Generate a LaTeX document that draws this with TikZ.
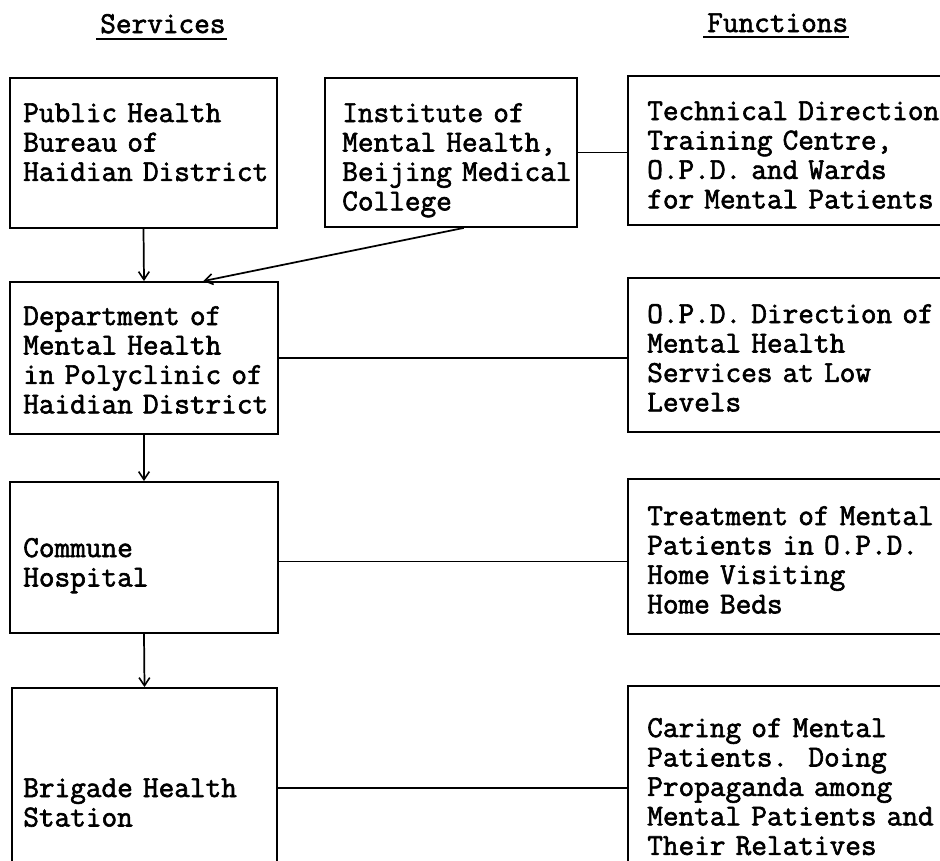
\documentclass[tikz,border=0pt]{standalone}
\usepackage{fontspec}
\usetikzlibrary{arrows.meta,fit,calc}

% heavy typewriter face: every space is exactly one character cell
\newfontfamily\twfont{Latin Modern Mono}[FakeBold=2]
\newcommand{\typeface}{\twfont\fontsize{22.8pt}{22.1pt}\selectfont
  \spaceskip=\fontcharwd\font`M\relax\xspaceskip=\spaceskip\frenchspacing}

\begin{document}
\begin{tikzpicture}[x=0.75pt,y=-0.75pt,
  box/.style={draw,rectangle,line width=1.4pt,inner sep=0pt},
  txt/.style={anchor=base west,inner sep=0pt,text width=320pt,align=left,font=\typeface},
  head/.style={anchor=base west,inner sep=0pt,font=\typeface},
  conn/.style={line width=1.3pt},
  arr/.style={conn,-{Straight Barb[length=6pt,width=8pt,line width=1.2pt]}},
  uline/.style={line width=1.6pt}]

\useasboundingbox (0,0) rectangle (940,861);
\fill[white] (0,0) rectangle (940,861);
\clip (0,0) rectangle (940,861);

% column headings
\node[head] (hs) at (100,33) {Services};
\node[head] (hf) at (707,32) {Functions};
\draw[uline] ($(hs.base west)+(-4,6)$) -- ($(hs.base east)+(1,6)$);
\draw[uline] ($(hf.base west)+(-4,5)$) -- ($(hf.base east)+(1,5)$);

% boxes (functions column runs off the right edge)
\node[box,fit={(10,78) (277,228)}] (b1) {};
\node[box,fit={(325,78) (577,227)}] (b2) {};
\node[box,fit={(628,76) (990,225)}] (b3) {};
\node[box,fit={(10,282) (278,434)}] (b4) {};
\node[box,fit={(628,278) (990,432)}] (b5) {};
\node[box,fit={(10,482) (278,633)}] (b6) {};
\node[box,fit={(628,479) (990,634)}] (b7) {};
\node[box,fit={(12,688) (277,888)}] (b8) {};
\node[box,fit={(628,686) (990,890)}] (b9) {};

% box texts
\node[txt] (t1) at (23,122) {Public Health\\Bureau of\\Haidian District};
\node[txt] (t2) at (342,122) {Institute of\\Mental Health,\\Beijing Medical\\College};
\node[txt] (t3) at (647,120) {Technical Direction\\Training Centre,\\O.P.D. and Wards\\for Mental Patients};
\node[txt] (t4) at (23,325) {Department of\\Mental Health\\in Polyclinic of\\Haidian District};
\node[txt] (t5) at (647,323) {O.P.D. Direction of\\Mental Health\\Services at Low\\Levels};
\node[txt] (t6) at (23,557) {Commune\\Hospital};
\node[txt] (t7) at (647,525) {Treatment of Mental\\Patients in O.P.D.\\Home Visiting\\Home Beds};
\node[txt] (t8) at (23,797) {Brigade Health\\Station};
\node[txt] (t9) at (647,737) {Caring of Mental\\Patients.\ \ Doing\\Propaganda among\\Mental Patients and\\Their Relatives};

% connectors
\draw[arr] (b1.south) -- (b4.north);
\draw[arr] ($(b2.south west)!0.55!(b2.south east)$) -- ($(b4.north west)!0.72!(b4.north east)$);
\draw[arr] (b4.south) -- (b6.north);
\draw[arr] (b6.south) -- (b8.north);
\draw[conn] (b2.east) -- (b2.east -| b3.west);
\draw[conn] (b4.east) -- (b4.east -| b5.west);
\draw[conn] ($(b6.east)+(0,4)$) -- ($(b6.east -| b7.west)+(0,4)$);
\draw[conn] (b8.east) -- (b8.east -| b9.west);
\end{tikzpicture}
\end{document}
